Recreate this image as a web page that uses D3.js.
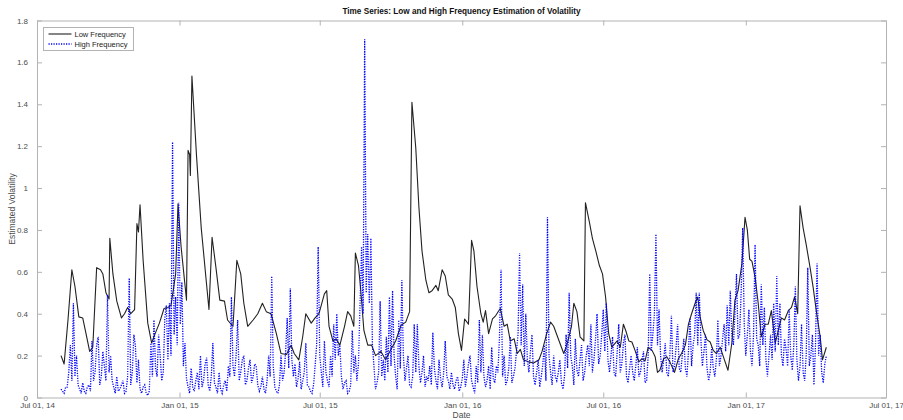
<!DOCTYPE html>
<html><head><meta charset="utf-8">
<script src="https://cdn.jsdelivr.net/npm/d3@7"></script>
<style>body{margin:0;background:#fff}svg{display:block;font-family:"Liberation Sans",Arial,sans-serif}</style>
</head><body><div id="chart"></div>
<script>
const title = "Time Series: Low and High Frequency Estimation of Volatility";
const xLabel = "Date", yLabel = "Estimated Volatility";
const seriesNames = ["Low Frequency", "High Frequency"];
const startDate = new Date(2014, 6, 1);
const xTickDates = ["2014-07-01","2015-01-01","2015-07-01","2016-01-01","2016-07-01","2017-01-01","2017-07-01"];
const xTickLabels = ["Jul 01, 14","Jan 01, 15","Jul 01, 15","Jan 01, 16","Jul 01, 16","Jan 01, 17","Jul 01, 17"];
const yTicks = [0,0.2,0.4,0.6,0.8,1,1.2,1.4,1.6,1.8];
const yTickLabels = ["0","0.2","0.4","0.6","0.8","1","1.2","1.4","1.6","1.8"];

// Low frequency: days since 2014-07-01 and values
const lowDays = [31,35,40,45,49,54,59,63,68,72,77,82,85,89,93,94,98,103,109,113,117,121,126,129,131,133,137,143,148,152,158,164,169,173,179,182,186,193,195,197,198,200,206,212,218,222,226,231,236,242,246,253,258,263,267,272,279,285,291,296,302,309,315,322,328,332,338,343,347,354,359,364,371,374,377,382,386,391,397,401,405,409,411,415,418,422,427,432,437,444,450,457,463,470,476,481,484,489,493,497,502,506,510,515,518,523,527,531,536,540,544,548,552,557,561,564,568,573,576,579,583,588,592,598,603,607,611,616,620,624,628,635,641,648,652,658,663,667,674,680,684,690,693,697,701,706,708,713,717,722,726,730,734,738,742,749,753,757,760,764,768,772,777,781,785,789,794,798,801,804,809,813,817,823,828,832,837,841,845,850,853,856,860,865,869,873,877,882,886,892,897,901,905,910,914,917,920,923,927,931,935,940,944,948,953,957,961,965,970,974,978,982,985,989,993,998,1002,1006,1011,1014,1019];
const lowValues = [0.20,0.16,0.37,0.61,0.53,0.385,0.38,0.31,0.22,0.24,0.62,0.61,0.59,0.50,0.47,0.76,0.59,0.46,0.38,0.40,0.43,0.40,0.42,0.83,0.79,0.92,0.655,0.355,0.26,0.30,0.355,0.425,0.43,0.44,0.59,0.925,0.72,0.465,1.18,1.16,1.06,1.535,1.15,0.81,0.575,0.42,0.765,0.62,0.465,0.46,0.37,0.34,0.655,0.59,0.45,0.34,0.37,0.40,0.45,0.41,0.40,0.305,0.21,0.205,0.25,0.21,0.18,0.29,0.40,0.355,0.38,0.40,0.495,0.51,0.34,0.27,0.28,0.25,0.34,0.41,0.39,0.34,0.69,0.63,0.51,0.32,0.25,0.25,0.20,0.22,0.18,0.23,0.27,0.345,0.36,0.41,1.41,1.19,0.91,0.70,0.56,0.50,0.51,0.535,0.51,0.61,0.58,0.49,0.47,0.43,0.305,0.225,0.375,0.35,0.75,0.70,0.53,0.40,0.36,0.415,0.305,0.375,0.39,0.425,0.34,0.35,0.27,0.28,0.21,0.23,0.18,0.17,0.165,0.18,0.22,0.305,0.36,0.34,0.27,0.21,0.25,0.34,0.45,0.41,0.29,0.27,0.93,0.84,0.76,0.69,0.63,0.59,0.48,0.305,0.24,0.27,0.24,0.35,0.32,0.27,0.265,0.225,0.17,0.185,0.175,0.24,0.225,0.195,0.12,0.13,0.185,0.195,0.17,0.12,0.185,0.21,0.25,0.35,0.40,0.455,0.48,0.385,0.32,0.275,0.265,0.225,0.21,0.24,0.195,0.13,0.26,0.465,0.51,0.64,0.86,0.80,0.66,0.65,0.575,0.45,0.29,0.35,0.35,0.415,0.26,0.32,0.38,0.37,0.415,0.43,0.48,0.40,0.915,0.81,0.73,0.62,0.525,0.415,0.29,0.18,0.24];

// High frequency: sampled every 2 days from day 31
const highStartDay = 31, highStepDays = 2;
const highValues = [
0.04,0.03,0.02,0.05,0.05,0.12,0.25,0.08,0.45,0.10,
0.20,0.06,0.04,0.02,0.07,0.03,0.02,0.05,0.06,0.03,
0.27,0.08,0.12,0.25,0.29,0.06,0.10,0.22,0.15,0.08,
0.49,0.12,0.20,0.08,0.05,0.02,0.10,0.03,0.04,0.06,
0.08,0.02,0.03,0.10,0.57,0.06,0.12,0.30,0.25,0.07,
0.18,0.04,0.02,0.05,0.06,0.02,0.01,0.03,0.26,0.10,
0.37,0.14,0.10,0.30,0.20,0.08,0.12,0.38,0.44,0.18,
0.45,0.20,1.22,0.30,0.48,0.25,0.93,0.35,0.55,0.15,
0.26,0.09,0.05,0.02,0.14,0.05,0.03,0.08,0.12,0.04,
0.20,0.05,0.08,0.16,0.19,0.06,0.03,0.10,0.26,0.07,
0.05,0.02,0.12,0.04,0.02,0.06,0.08,0.03,0.15,0.10,
0.48,0.15,0.10,0.20,0.37,0.08,0.12,0.18,0.20,0.06,
0.08,0.14,0.18,0.07,0.10,0.16,0.15,0.06,0.03,0.05,
0.10,0.04,0.02,0.08,0.20,0.10,0.58,0.15,0.05,0.03,
0.02,0.06,0.20,0.08,0.12,0.22,0.38,0.14,0.52,0.18,
0.10,0.16,0.05,0.09,0.17,0.04,0.08,0.12,0.26,0.06,
0.05,0.03,0.02,0.06,0.15,0.25,0.72,0.20,0.12,0.05,
0.27,0.12,0.08,0.05,0.20,0.10,0.35,0.18,0.40,0.20,
0.25,0.10,0.04,0.07,0.08,0.02,0.03,0.06,0.32,0.12,
0.20,0.08,0.16,0.45,0.72,0.40,1.71,0.50,0.78,0.45,
0.76,0.25,0.15,0.04,0.07,0.12,0.46,0.10,0.18,0.08,
0.29,0.12,0.48,0.15,0.51,0.20,0.10,0.04,0.37,0.14,
0.56,0.20,0.08,0.14,0.20,0.06,0.05,0.10,0.35,0.12,
0.35,0.15,0.07,0.12,0.20,0.05,0.10,0.08,0.15,0.06,
0.31,0.14,0.08,0.04,0.18,0.09,0.05,0.12,0.27,0.10,
0.08,0.04,0.12,0.06,0.04,0.08,0.10,0.03,0.05,0.09,
0.18,0.05,0.10,0.16,0.20,0.08,0.05,0.02,0.15,0.07,
0.37,0.12,0.30,0.10,0.05,0.08,0.15,0.04,0.24,0.09,
0.07,0.15,0.12,0.28,0.61,0.10,0.20,0.06,0.08,0.14,
0.29,0.07,0.10,0.14,0.22,0.30,0.69,0.25,0.54,0.15,
0.40,0.18,0.12,0.22,0.30,0.10,0.06,0.12,0.18,0.05,
0.10,0.16,0.25,0.08,0.86,0.20,0.12,0.06,0.20,0.10,
0.08,0.12,0.18,0.07,0.04,0.10,0.30,0.14,0.50,0.20,
0.15,0.06,0.28,0.13,0.10,0.18,0.25,0.08,0.12,0.20,
0.25,0.15,0.35,0.12,0.18,0.28,0.40,0.16,0.20,0.30,
0.42,0.22,0.45,0.18,0.12,0.20,0.29,0.12,0.10,0.22,
0.35,0.12,0.16,0.26,0.30,0.10,0.07,0.14,0.20,0.12,
0.08,0.15,0.24,0.10,0.12,0.18,0.22,0.07,0.08,0.20,
0.59,0.22,0.30,0.40,0.78,0.25,0.42,0.20,0.12,0.18,
0.26,0.12,0.10,0.20,0.39,0.12,0.15,0.24,0.35,0.14,
0.12,0.20,0.28,0.14,0.10,0.22,0.38,0.15,0.25,0.30,
0.50,0.25,0.50,0.28,0.15,0.22,0.30,0.14,0.08,0.12,
0.24,0.14,0.10,0.18,0.37,0.15,0.20,0.28,0.35,0.22,
0.44,0.25,0.51,0.30,0.25,0.40,0.59,0.28,0.30,0.50,
0.81,0.35,0.20,0.30,0.42,0.22,0.15,0.30,0.73,0.28,
0.25,0.15,0.54,0.25,0.43,0.18,0.10,0.20,0.30,0.18,
0.45,0.22,0.58,0.25,0.45,0.20,0.15,0.28,0.23,0.15,
0.42,0.20,0.13,0.25,0.53,0.18,0.08,0.15,0.35,0.12,
0.08,0.20,0.62,0.15,0.20,0.30,0.06,0.25,0.64,0.20,
0.30,0.12,0.07,0.16,0.20];

const W = 903, H = 420;
const m = {left: 37, right: 17, top: 20.5, bottom: 22.5};
const svg = d3.select("#chart").append("svg").attr("width", W).attr("height", H);

const x = d3.scaleTime().domain([new Date(2014,6,1), new Date(2017,6,1)]).range([m.left, W - m.right]);
const y = d3.scaleLinear().domain([0, 1.8]).range([H - m.bottom, m.top]);

const lowData = lowDays.map((d,i) => ({date: d3.timeDay.offset(startDate, d), v: lowValues[i]}));
const highData = highValues.map((v,i) => ({date: d3.timeDay.offset(startDate, highStartDay + i*highStepDays), v}));

const axisColor = "#b3b3b3", textColor = "#4d4d4d";

// Plot lines
const line = d3.line().x(d => x(d.date)).y(d => y(d.v));
svg.append("path").datum(lowData).attr("d", line).attr("fill","none")
  .attr("stroke","#222").attr("stroke-width",1.1).attr("stroke-linejoin","round");
svg.append("path").datum(highData).attr("d", line).attr("fill","none")
  .attr("stroke","#0000ff").attr("stroke-width",1.3).attr("stroke-dasharray","1.2,1.3");

// Axes (MATLAB-like box with inward ticks)
const xTicks = xTickDates.map(s => { const p = s.split("-"); return new Date(+p[0], +p[1]-1, +p[2]); });
const xAxisB = d3.axisBottom(x).tickValues(xTicks).tickFormat((d,i) => xTickLabels[i]).tickSizeInner(-5).tickSizeOuter(0).tickPadding(5);
const xAxisT = d3.axisTop(x).tickValues(xTicks).tickFormat("").tickSizeInner(-5).tickSizeOuter(0);
const yAxisL = d3.axisLeft(y).tickValues(yTicks).tickFormat((d,i) => yTickLabels[i]).tickSizeInner(-5).tickSizeOuter(0).tickPadding(9);
const yAxisR = d3.axisRight(y).tickValues(yTicks).tickFormat("").tickSizeInner(-5).tickSizeOuter(0);

function style(g){
  g.selectAll(".domain").attr("stroke", axisColor).attr("stroke-width",1);
  g.selectAll(".tick line").attr("stroke", axisColor).attr("stroke-width",1);
  g.selectAll(".tick text").attr("fill", textColor).attr("font-size", 8).attr("font-family","Liberation Sans, Arial, sans-serif");
}
svg.append("g").attr("transform",`translate(0,${H-m.bottom})`).call(xAxisB).call(style);
svg.append("g").attr("transform",`translate(0,${m.top})`).call(xAxisT).call(style);
svg.append("g").attr("transform",`translate(${m.left},0)`).call(yAxisL).call(style);
svg.append("g").attr("transform",`translate(${W-m.right},0)`).call(yAxisR).call(style);

// Labels
svg.append("text").attr("x",(m.left + W - m.right)/2).attr("y",14).attr("text-anchor","middle")
  .attr("font-size",8.2).attr("font-weight","bold").attr("fill","#111").text(title);
svg.append("text").attr("x",(m.left + W - m.right)/2).attr("y",417.5).attr("text-anchor","middle")
  .attr("font-size",8.5).attr("fill",textColor).text(xLabel);
svg.append("text").attr("transform",`translate(15,${(m.top + H - m.bottom)/2}) rotate(-90)`).attr("text-anchor","middle")
  .attr("font-size",8.5).attr("fill",textColor).text(yLabel);

// Legend
const lg = svg.append("g").attr("transform","translate(43.5,27.5)");
lg.append("rect").attr("width",90).attr("height",23).attr("fill","#fff").attr("stroke",axisColor).attr("stroke-width",1);
const styles = [{c:"#222", dash:null, w:1.1}, {c:"#0000ff", dash:"1.2,1.3", w:1.3}];
seriesNames.forEach((n,i) => {
  const yy = 6.5 + i*10;
  lg.append("line").attr("x1",5).attr("x2",28).attr("y1",yy).attr("y2",yy)
    .attr("stroke",styles[i].c).attr("stroke-width",styles[i].w).attr("stroke-dasharray",styles[i].dash);
  lg.append("text").attr("x",31).attr("y",yy+2.8).attr("font-size",7.5).attr("fill","#222").text(n);
});
</script></body></html>
